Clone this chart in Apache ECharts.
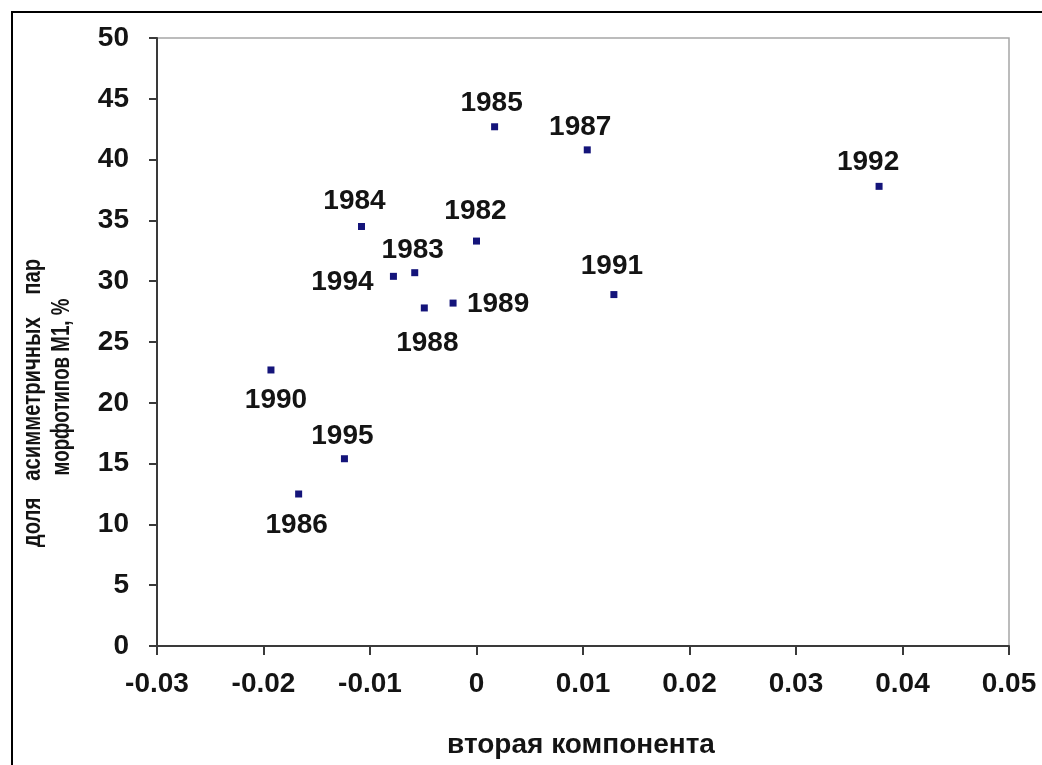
<!DOCTYPE html>
<html>
<head>
<meta charset="utf-8">
<script src="https://cdn.jsdelivr.net/npm/echarts@6/dist/echarts.min.js"></script>
<style>
  html, body { margin: 0; padding: 0; background: #fff; }
  #chart { width: 1042px; height: 765px; }
</style>
</head>
<body>
<div id="chart"></div>
<script>
// Years of observation
const years = [1982, 1983, 1984, 1985, 1986, 1987, 1988, 1989, 1990, 1991, 1992, 1994, 1995];
// Second principal component score for each year
const secondComponent = [0.0000, -0.0058, -0.0108, 0.0017, -0.0167, 0.0104, -0.0049, -0.0022, -0.0193, 0.0129, 0.0378, -0.0078, -0.0124];
// Share of asymmetric M1 morphotype pairs, %
const asymShare = [33.3, 30.7, 34.5, 42.7, 12.5, 40.8, 27.8, 28.2, 22.7, 28.9, 37.8, 30.4, 15.4];

// Label placement around each marker (pixel offsets of the label centre)
const labelOffset = {
  1982: [-1, -30], 1983: [-2, -22], 1984: [-7, -25], 1985: [-3, -23],
  1986: [-2, 31],  1987: [-7, -23], 1988: [3, 35],   1989: [45, 1],
  1990: [5, 30],   1991: [-2, -28], 1992: [-11, -24], 1994: [-51, 6],
  1995: [-2, -22]
};

const FONT = '"Liberation Sans", Arial, sans-serif';
const TXT = '#141414';

const points = years.map((yr, i) => ({
  value: [secondComponent[i], asymShare[i]],
  label: { offset: labelOffset[yr] }
}));

const chart = echarts.init(document.getElementById('chart'), null, { renderer: 'canvas' });

chart.setOption({
  backgroundColor: '#ffffff',
  animation: false,
  grid: {
    left: 157, top: 38, right: 33, bottom: 119,
    show: true, borderColor: '#a6a6a6', borderWidth: 1.5, backgroundColor: 'transparent'
  },
  xAxis: {
    type: 'value', min: -0.03, max: 0.05, interval: 0.01,
    axisLine: { show: true, onZero: false, lineStyle: { color: '#3a3a3a', width: 2 } },
    axisTick: { show: true, length: 9, lineStyle: { color: '#3a3a3a', width: 2 } },
    splitLine: { show: false },
    axisLabel: {
      margin: 24, color: TXT, fontFamily: FONT, fontWeight: 'bold', fontSize: 28,
      formatter: v => String(+v.toFixed(2))
    }
  },
  yAxis: {
    type: 'value', min: 0, max: 50, interval: 5,
    axisLine: { show: true, onZero: false, lineStyle: { color: '#3a3a3a', width: 2 } },
    axisTick: { show: true, length: 8, lineStyle: { color: '#3a3a3a', width: 2 } },
    splitLine: { show: false },
    axisLabel: { margin: 28, color: TXT, fontFamily: FONT, fontWeight: 'bold', fontSize: 28 }
  },
  series: [{
    type: 'scatter',
    symbol: 'rect',
    symbolSize: 7,
    itemStyle: { color: '#14147a', opacity: 1 },
    emphasis: { disabled: true },
    label: {
      show: true, position: 'inside', align: 'center', verticalAlign: 'middle',
      formatter: p => String(years[p.dataIndex]),
      color: TXT, opacity: 1, fontFamily: FONT, fontWeight: 'bold', fontSize: 28
    },
    data: points
  }],
  graphic: [
    // outer frame (top and left edges)
    { type: 'line', shape: { x1: 11, y1: 12, x2: 1042, y2: 12 }, style: { stroke: '#000', lineWidth: 2 } },
    { type: 'line', shape: { x1: 12, y1: 11, x2: 12, y2: 765 }, style: { stroke: '#000', lineWidth: 2 } },
    // axis titles
    {
      type: 'text', x: 581, y: 745,
      style: { text: 'вторая компонента', font: 'bold 28px ' + FONT, fill: TXT, align: 'center', verticalAlign: 'middle' }
    },
    {
      type: 'text', x: 33, y: 403, rotation: Math.PI / 2, scaleX: 0.78,
      style: { text: 'доля   асимметричных    пар', font: 'bold 26px ' + FONT, fill: TXT, align: 'center', verticalAlign: 'middle' }
    },
    {
      type: 'text', x: 62, y: 387, rotation: Math.PI / 2, scaleX: 0.72,
      style: { text: 'морфотипов М1, %', font: 'bold 26px ' + FONT, fill: TXT, align: 'center', verticalAlign: 'middle' }
    }
  ]
});
</script>
</body>
</html>
